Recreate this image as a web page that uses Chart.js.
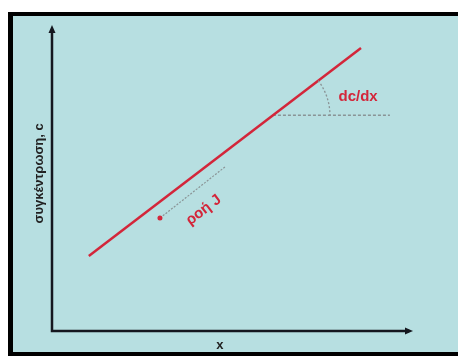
<!DOCTYPE html>
<html>
<head>
<meta charset="utf-8">
<script src="https://cdn.jsdelivr.net/npm/chart.js@4/dist/chart.umd.min.js"></script>
<style>
  html, body { margin: 0; padding: 0; background: #fff; }
  body { width: 458px; height: 356px; position: relative; overflow: hidden; }
  #frame {
    position: absolute; left: 8px; top: 12px; width: 460px; height: 344px;
    box-sizing: border-box; background: #b7dfe1;
    border-left: 5px solid #000; border-top: 4px solid #000; border-bottom: 4px solid #000;
  }
  #wrap { position: absolute; left: 0; top: 0; width: 458px; height: 356px; }
</style>
</head>
<body>
<div id="frame"></div>
<div id="wrap"><canvas id="diffusion"></canvas></div>
<script>
  // concentration profile c(x): straight line
  const lineX = [1.02, 8.56];
  const lineY = [2.45, 9.25];
  // tangent point and horizontal reference for dc/dx
  const tangentPt = [6.12, 7.05];
  const horizEndX = 9.36;
  // flux J arrow (down the gradient)
  const fluxX = [4.79, 2.99];
  const fluxY = [5.36, 3.69];
  const xTitle = 'x';
  const yTitle = 'συγκέντρωση, c';
  const slopeLabel = 'dc/dx';
  const fluxLabel = 'ροή J';
  const slopeLabelPos = [8.48, 7.65];
  const fluxLabelPos = [4.2, 3.95];

  const RED = '#d3263a';
  const GREY = '#8a9496';
  const AXIS = '#15171f';

  const extras = {
    id: 'extras',
    afterDatasetsDraw(chart) {
      const { ctx, chartArea: a, scales: { x, y } } = chart;
      ctx.save();
      // axes with arrow heads
      ctx.strokeStyle = AXIS; ctx.fillStyle = AXIS; ctx.lineWidth = 2.5;
      ctx.beginPath();
      ctx.moveTo(a.left, a.top + 4); ctx.lineTo(a.left, a.bottom); ctx.lineTo(a.right - 4, a.bottom);
      ctx.stroke();
      ctx.beginPath();
      ctx.moveTo(a.left, a.top); ctx.lineTo(a.left - 3.5, a.top + 8); ctx.lineTo(a.left + 3.5, a.top + 8); ctx.closePath(); ctx.fill();
      ctx.beginPath();
      ctx.moveTo(a.right, a.bottom); ctx.lineTo(a.right - 8, a.bottom - 3.5); ctx.lineTo(a.right - 8, a.bottom + 3.5); ctx.closePath(); ctx.fill();

      // axis titles
      ctx.fillStyle = '#222';
      ctx.font = 'bold 13px "Liberation Sans", Arial, sans-serif';
      ctx.textAlign = 'center'; ctx.textBaseline = 'middle';
      ctx.fillText(xTitle, x.getPixelForValue(4.65), a.bottom + 14);
      ctx.save();
      ctx.translate(a.left - 13, y.getPixelForValue(5.15));
      ctx.rotate(-Math.PI / 2);
      ctx.fillText(yTitle, 0, 0);
      ctx.restore();

      // arc showing the slope angle
      const cx = x.getPixelForValue(tangentPt[0]), cy = y.getPixelForValue(tangentPt[1]);
      const ang = Math.atan2(y.getPixelForValue(lineY[1]) - y.getPixelForValue(lineY[0]),
                             x.getPixelForValue(lineX[1]) - x.getPixelForValue(lineX[0]));
      ctx.strokeStyle = GREY; ctx.lineWidth = 1.3; ctx.setLineDash([2, 2]);
      ctx.beginPath();
      ctx.arc(cx, cy, 57, ang, 0);
      ctx.stroke();
      ctx.setLineDash([]);

      // labels
      ctx.fillStyle = RED;
      ctx.font = 'bold 15px "Liberation Sans", Arial, sans-serif';
      ctx.fillText(slopeLabel, x.getPixelForValue(slopeLabelPos[0]), y.getPixelForValue(slopeLabelPos[1]));
      ctx.save();
      ctx.translate(x.getPixelForValue(fluxLabelPos[0]), y.getPixelForValue(fluxLabelPos[1]));
      ctx.rotate(ang);
      ctx.fillText(fluxLabel, 0, 0);
      ctx.restore();
      ctx.restore();
    }
  };

  new Chart(document.getElementById('diffusion'), {
    type: 'scatter',
    data: {
      datasets: [
        {
          data: lineX.map((v, i) => ({ x: v, y: lineY[i] })),
          showLine: true, borderColor: RED, borderWidth: 2.5, pointRadius: 0,
        },
        {
          data: [{ x: tangentPt[0], y: tangentPt[1] }, { x: horizEndX, y: tangentPt[1] }],
          showLine: true, borderColor: GREY, borderWidth: 1.3, borderDash: [3, 2], pointRadius: 0,
        },
        {
          data: fluxX.map((v, i) => ({ x: v, y: fluxY[i] })),
          showLine: true, borderColor: GREY, borderWidth: 1.2, borderDash: [2, 1.5],
          pointRadius: [0, 2.5], pointBackgroundColor: RED, pointBorderWidth: 0,
        }
      ]
    },
    plugins: [extras],
    options: {
      responsive: true,
      maintainAspectRatio: false,
      animation: false,
      layout: { padding: { left: 52, right: 45, top: 25, bottom: 25 } },
      plugins: { legend: { display: false }, tooltip: { enabled: false } },
      scales: {
        x: { type: 'linear', display: false, min: 0, max: 10 },
        y: { type: 'linear', display: false, min: 0, max: 10 }
      }
    }
  });
</script>
</body>
</html>
